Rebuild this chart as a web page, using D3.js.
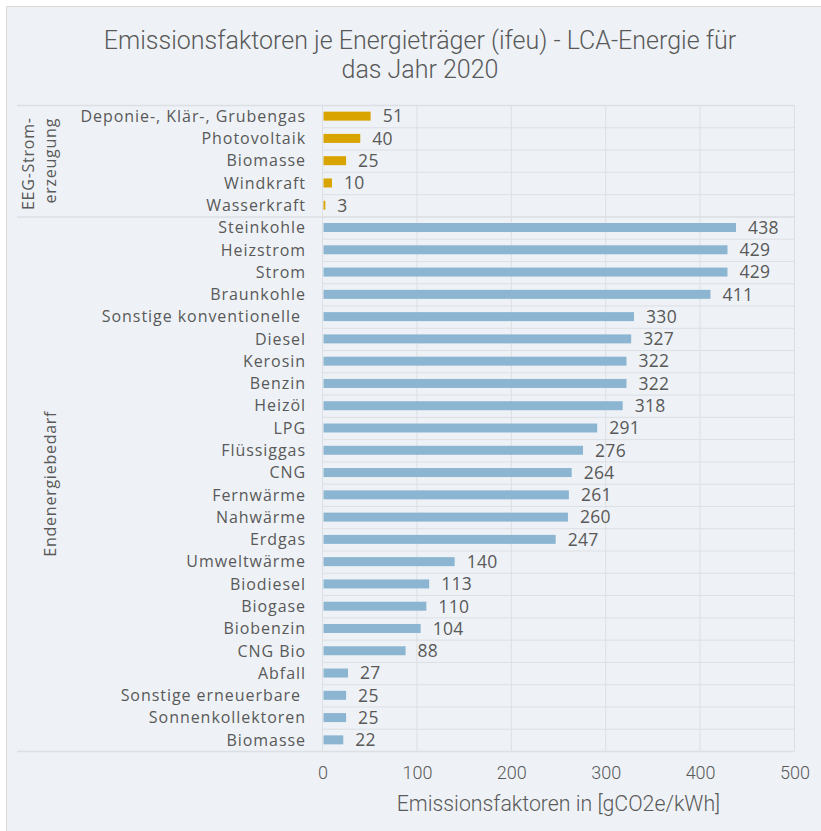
<!DOCTYPE html>
<html>
<head>
<meta charset="utf-8">
<script src="https://cdn.jsdelivr.net/npm/d3@7"></script>
<style>
  body { margin: 0; background: #ffffff; }
  svg { display: block; font-family: "Open Sans", "Noto Sans", sans-serif; }
  .light { font-family: Roboto, "Liberation Sans Narrow", sans-serif; font-weight: 300; }
  .cat { white-space: pre; }
</style>
</head>
<body>
<svg id="chart" width="821" height="831"></svg>
<script>
// --- data ---
const eegLabels = ["Deponie-, Klär-, Grubengas", "Photovoltaik", "Biomasse", "Windkraft", "Wasserkraft"];
const eegValues = [51, 40, 25, 10, 3];
const endLabels = ["Steinkohle", "Heizstrom", "Strom", "Braunkohle", "Sonstige konventionelle ",
  "Diesel", "Kerosin", "Benzin", "Heizöl", "LPG", "Flüssiggas", "CNG", "Fernwärme", "Nahwärme",
  "Erdgas", "Umweltwärme", "Biodiesel", "Biogase", "Biobenzin", "CNG Bio", "Abfall",
  "Sonstige erneuerbare ", "Sonnenkollektoren", "Biomasse"];
const endValues = [438, 429, 429, 411, 330, 327, 322, 322, 318, 291, 276, 264, 261, 260,
  247, 140, 113, 110, 104, 88, 27, 25, 25, 22];
const xTicks = [0, 100, 200, 300, 400, 500];

const rows = eegLabels.map((l, i) => ({ key: "eeg" + i, label: l, value: eegValues[i], group: "eeg" }))
  .concat(endLabels.map((l, i) => ({ key: "end" + i, label: l, value: endValues[i], group: "end" })));

const svg = d3.select("#chart");
const W = 821, H = 831;
const plotL = 322.5, plotR = 794.5, plotT = 105, plotB = 751;
const textCol = "#595959", gridCol = "#dcdfe3";

// frame
svg.append("rect").attr("x", 6.5).attr("y", 6.5).attr("width", W).attr("height", H)
  .attr("fill", "#eef2f6").attr("stroke", "#d9d9d9");

const x = d3.scaleLinear().domain([0, 500]).range([plotL, plotR]);
const y = d3.scaleBand().domain(rows.map(d => d.key)).range([plotT, plotB]);

// title
svg.append("text").attr("class", "light").attr("x", 420).attr("y", 49).attr("text-anchor", "middle")
  .attr("font-size", 25).attr("fill", textCol).text("Emissionsfaktoren je Energieträger (ifeu) - LCA-Energie für");
svg.append("text").attr("class", "light").attr("x", 420).attr("y", 78).attr("text-anchor", "middle")
  .attr("font-size", 25).attr("fill", textCol).text("das Jahr 2020");

// row separators
const g = svg.append("g");
g.selectAll("line.row").data(rows.slice(1)).join("line")
  .attr("x1", plotL).attr("x2", plotR)
  .attr("y1", d => y(d.key) + 0.5).attr("y2", d => y(d.key) + 0.5)
  .attr("stroke", gridCol);

// vertical grid
g.selectAll("line.v").data(xTicks).join("line")
  .attr("x1", d => x(d)).attr("x2", d => x(d))
  .attr("y1", plotT).attr("y2", plotB)
  .attr("stroke", gridCol);

// long separators (top, group split, bottom)
const gsplit = y("end0");
[plotT, gsplit, plotB].forEach(v => {
  g.append("line").attr("x1", 17).attr("x2", plotR).attr("y1", v + 0.5).attr("y2", v + 0.5)
    .attr("stroke", gridCol).attr("stroke-width", 1.5);
});

// bars
const bh = 9;
g.selectAll("rect.bar").data(rows).join("rect")
  .attr("x", x(0) + 1)
  .attr("y", d => y(d.key) + y.bandwidth() / 2 - bh / 2)
  .attr("width", d => Math.max(0, x(d.value) - x(0) - 1))
  .attr("height", bh)
  .attr("fill", d => d.group === "eeg" ? "#d9a300" : "#8cb5d1");

// value labels
g.selectAll("text.val").data(rows).join("text")
  .attr("x", d => x(d.value) + 12)
  .attr("y", d => y(d.key) + y.bandwidth() / 2)
  .attr("dy", "0.36em")
  .attr("font-size", 17.5).attr("letter-spacing", 0.3).attr("fill", textCol)
  .text(d => d.value);

// category labels
g.selectAll("text.cat").data(rows).join("text")
  .attr("class", "cat")
  .attr("x", 306)
  .attr("y", d => y(d.key) + y.bandwidth() / 2)
  .attr("dy", "0.36em").attr("text-anchor", "end")
  .attr("font-size", 16).attr("letter-spacing", 0.95).attr("fill", textCol)
  .text(d => d.label);

// group labels
const eegMid = (plotT + gsplit) / 2, endMid = (gsplit + plotB) / 2;
const grp = (tx, ty, t) => svg.append("text").attr("transform", `translate(${tx},${ty}) rotate(-90)`)
  .attr("text-anchor", "middle").attr("font-size", 16).attr("letter-spacing", 0.75)
  .attr("fill", textCol).text(t);
grp(34, eegMid + 3, "EEG-Strom-");
grp(56, eegMid, "erzeugung");
grp(56, endMid, "Endenergiebedarf");

// x axis
const xAxis = svg.append("g").attr("transform", `translate(0,${plotB})`)
  .call(d3.axisBottom(x).tickValues(xTicks).tickSize(0).tickPadding(15));
xAxis.select(".domain").remove();
xAxis.selectAll("text").attr("class", "light").attr("font-size", 18).attr("fill", textCol);

svg.append("text").attr("class", "light").attr("x", (plotL + plotR) / 2).attr("y", 811).attr("text-anchor", "middle")
  .attr("font-size", 21.3).attr("fill", textCol).text("Emissionsfaktoren in [gCO2e/kWh]");
</script>
</body>
</html>
